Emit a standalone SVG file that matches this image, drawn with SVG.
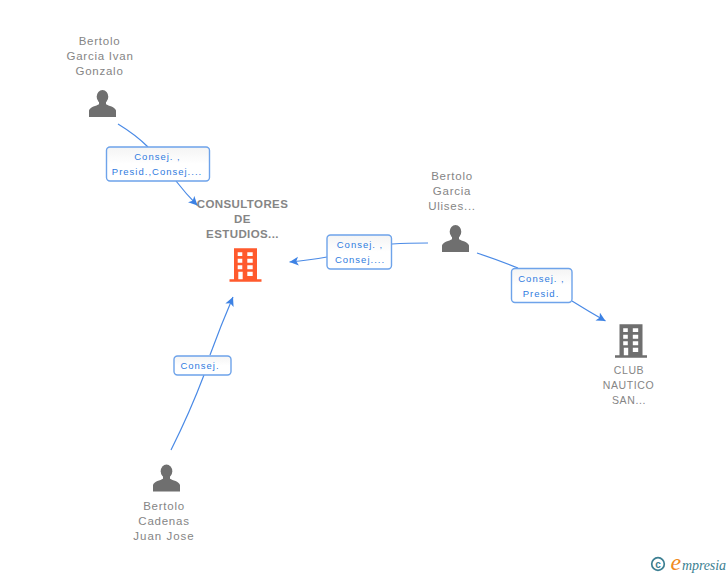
<svg xmlns="http://www.w3.org/2000/svg" width="728" height="575" viewBox="0 0 728 575">
<style>
.n{font:11.5px "Liberation Sans",Arial,sans-serif;fill:#858585;text-anchor:middle;letter-spacing:.75px}
.b{font-weight:bold;letter-spacing:.4px}
.s{font-size:10.500px;letter-spacing:.6px}
.l{font:9.500px "Liberation Sans",Arial,sans-serif;fill:#2f7be0;text-anchor:middle;letter-spacing:1px}
.box{fill:url(#g);stroke:#6ea3ea;stroke-width:1.400}
.c{fill:none;stroke:#4a8ae6;stroke-width:1.200}
</style>
<defs>
<linearGradient id="g" x1="0" y1="0" x2="0" y2="1"><stop offset="0" stop-color="#f4f4f4"/><stop offset=".5" stop-color="#fff"/></linearGradient>
<marker id="a" markerWidth="12" markerHeight="10" refX="9" refY="4.500" orient="auto" markerUnits="userSpaceOnUse"><path d="M0 0L9 4.500L0 9L2.200 4.500Z" fill="#3d82e4"/></marker>
<g id="person"><ellipse cx="0" cy="-7.300" rx="5.800" ry="6.700" fill="#6f6f6f"/><path d="M-3.500 -3V0.200C-6 2 -12.500 2.500 -13.500 6.500V13H13.500V6.500C12.500 2.500 6 2 3.500 0.200V-3Z" fill="#6f6f6f"/></g>
<g id="bld"><path fill-rule="evenodd" d="M-11.500 -16.700H11.500V14.300H16V16.700H-16V14.300H-11.500ZM-7.800 -12.700V-9H-3.200V-12.700ZM1.800 -12.700V-9H7.200V-12.700ZM-7.800 -6.300V-2.300H-3.200V-6.300ZM1.800 -6.300V-2.300H7.200V-6.300ZM-7.800 .3V4.300H-3.200V.3ZM1.800 .3V4.300H7.200V.3ZM-7.200 6.700V14.300H-2.800V6.700ZM1.800 6.700V11H7.200V6.700Z"/></g>
</defs>
<rect width="728" height="575" fill="#fff"/>
<g id="connectors">
<path class="c" d="M118 124Q136 135 148 147"/>
<path class="c" d="M176 181Q186 194 197.500 205.500" marker-end="url(#a)"/>
<path class="c" d="M428 243Q408 243 392 244"/>
<path class="c" d="M327 257Q310 260 289.500 262" marker-end="url(#a)"/>
<path class="c" d="M477 253Q498 260 518 268"/>
<path class="c" d="M572 301Q588 311 605.500 321" marker-end="url(#a)"/>
<path class="c" d="M171 450Q190 412 204 375"/>
<path class="c" d="M210 355Q221 325 233 297" marker-end="url(#a)"/>
</g>
<g id="label1"><rect class="box" x="106.500" y="147" width="103" height="34" rx="3.500"/><text class="l" x="157.500" y="160">Consej. ,</text><text class="l" x="157" y="175">Presid.,Consej....</text></g>
<g id="label2"><rect class="box" x="327" y="235" width="64.500" height="34" rx="3.500"/><text class="l" x="360" y="248">Consej. ,</text><text class="l" x="360" y="263">Consej....</text></g>
<g id="label3"><rect class="box" x="511.500" y="268.500" width="60.500" height="34" rx="3.500"/><text class="l" x="541.500" y="282">Consej. ,</text><text class="l" x="541" y="297">Presid.</text></g>
<g id="label4"><rect class="box" x="174" y="356" width="57" height="19" rx="3.500"/><text class="l" x="200" y="369">Consej.</text></g>
<g id="n1"><text class="n" x="99.500" y="45">Bertolo</text><text class="n" x="100" y="60">Garcia Ivan</text><text class="n" x="99.500" y="75">Gonzalo</text><use href="#person" x="102.500" y="104"/></g>
<g id="n2"><text class="n b" x="242.500" y="208">CONSULTORES</text><text class="n b" x="242.500" y="223">DE</text><text class="n b" x="242.500" y="238">ESTUDIOS...</text><use href="#bld" x="245.500" y="265" fill="#ff5a2d"/></g>
<g id="n3"><text class="n" x="452" y="180">Bertolo</text><text class="n" x="452" y="195">Garcia</text><text class="n" x="452" y="210">Ulises...</text><use href="#person" x="455.500" y="239"/></g>
<g id="n4"><use href="#bld" x="631" y="341" fill="#6f6f6f"/><text class="n s" x="629" y="374">CLUB</text><text class="n s" x="628.500" y="389">NAUTICO</text><text class="n s" x="629" y="404">SAN...</text></g>
<g id="n5"><use href="#person" x="166.500" y="478.500"/><text class="n" x="164" y="510">Bertolo</text><text class="n" x="164" y="525">Cadenas</text><text class="n" x="164" y="540" style="letter-spacing:1px">Juan Jose</text></g>
<g id="logo"><circle cx="658" cy="564" r="6.300" fill="none" stroke="#3c7f92" stroke-width="1.700"/><text x="658" y="567.500" font-family="Liberation Sans,sans-serif" font-size="10" font-weight="bold" fill="#3c7f92" text-anchor="middle">c</text><text x="670.500" y="570" font-family="Liberation Serif,serif" font-style="italic" font-size="24" fill="#f08a1d">e</text><text x="682" y="570" font-family="Liberation Serif,serif" font-style="italic" font-size="14" fill="#3c7f92" textLength="44">mpresia</text></g>
</svg>
